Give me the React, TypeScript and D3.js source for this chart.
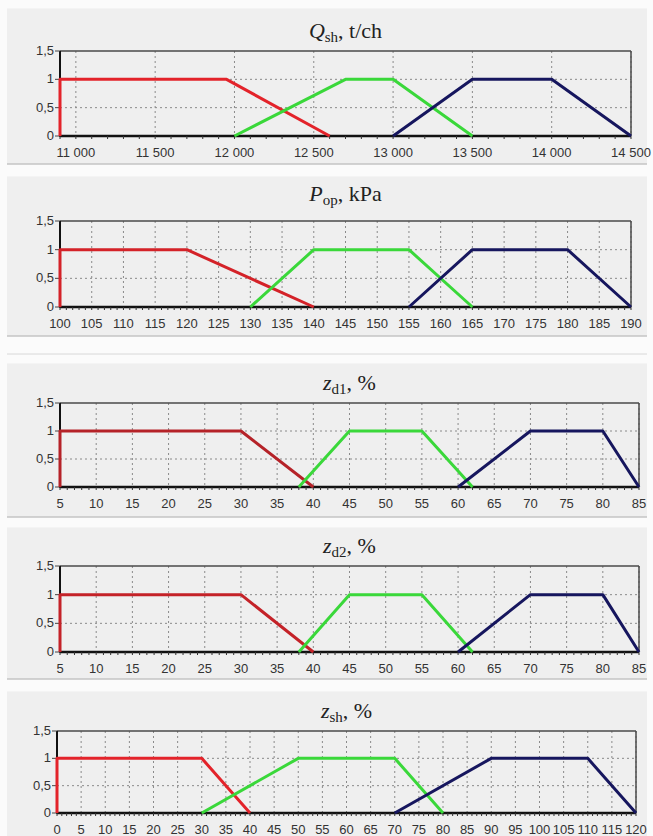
import * as d3 from "d3";
import React from "react";

// --- data: trapezoid membership functions ---
const qshTicks = [11000, 11500, 12000, 12500, 13000, 13500, 14000, 14500];
const qshLabels = ["11 000", "11 500", "12 000", "12 500", "13 000", "13 500", "14 000", "14 500"];
const qshRed: [number, number][] = [[10900, 0], [10900, 1], [11950, 1], [12600, 0]];
const qshGreen: [number, number][] = [[12000, 0], [12700, 1], [13000, 1], [13500, 0]];
const qshBlue: [number, number][] = [[13000, 0], [13500, 1], [14000, 1], [14500, 0]];

const popTicks = [100, 105, 110, 115, 120, 125, 130, 135, 140, 145, 150, 155, 160, 165, 170, 175, 180, 185, 190];
const popRed: [number, number][] = [[100, 0], [100, 1], [120, 1], [140, 0]];
const popGreen: [number, number][] = [[130, 0], [140, 1], [155, 1], [165, 0]];
const popBlue: [number, number][] = [[155, 0], [165, 1], [180, 1], [190, 0]];

const zdTicks = [5, 10, 15, 20, 25, 30, 35, 40, 45, 50, 55, 60, 65, 70, 75, 80, 85];
const zd1Red: [number, number][] = [[5, 0], [5, 1], [30, 1], [40, 0]];
const zd1Green: [number, number][] = [[38, 0], [45, 1], [55, 1], [62, 0]];
const zd1Blue: [number, number][] = [[60, 0], [70, 1], [80, 1], [85, 0]];
const zd2Red: [number, number][] = [[5, 0], [5, 1], [30, 1], [40, 0]];
const zd2Green: [number, number][] = [[38, 0], [45, 1], [55, 1], [62, 0]];
const zd2Blue: [number, number][] = [[60, 0], [70, 1], [80, 1], [85, 0]];

const zshTicks = [0, 5, 10, 15, 20, 25, 30, 35, 40, 45, 50, 55, 60, 65, 70, 75, 80, 85, 90, 95, 100, 105, 110, 115, 120];
const zshRed: [number, number][] = [[0, 0], [0, 1], [30, 1], [40, 0]];
const zshGreen: [number, number][] = [[30, 0], [50, 1], [70, 1], [80, 0]];
const zshBlue: [number, number][] = [[70, 0], [90, 1], [110, 1], [120, 0]];

const yTicks = [0, 0.5, 1, 1.5];
const yLabels = ["0", "0,5", "1", "1,5"];

const GREEN = "#3ad83a";
const BLUE = "#16165e";

type PanelProps = {
  bgTop: number;
  bgH: number;
  left: number;
  right: number;
  top: number;
  bottom: number;
  titleGap?: number;
  domain: [number, number];
  ticks: number[];
  labels?: string[];
  series: { pts: [number, number][]; color: string }[];
  sym: string;
  sub: string;
  unit: string;
};

const Panel = (p: PanelProps) => {
  const x = d3.scaleLinear().domain(p.domain).range([p.left, p.right]);
  const y = d3.scaleLinear().domain([0, 1.5]).range([p.bottom, p.top]);
  const line = d3
    .line<[number, number]>()
    .x((d) => x(d[0]))
    .y((d) => y(d[1]));

  // small minor ticks on the x axis, 5 per major step
  const step = p.ticks[1] - p.ticks[0];
  const minor: number[] = [];
  for (let v = p.domain[0]; v <= p.domain[1] + 1e-9; v += step / 5) minor.push(v);

  const cx = (p.left + p.right) / 2;
  return (
    <g>
      <rect x={7} y={p.bgTop} width={640} height={p.bgH} fill="#efefef" />
      <line x1={7} x2={647} y1={p.bgTop + p.bgH} y2={p.bgTop + p.bgH} stroke="#c4c4c4" strokeWidth={1.5} />
      <line x1={7} x2={647} y1={p.bgTop} y2={p.bgTop} stroke="#fafafa" strokeWidth={1} />

      <text x={cx} y={p.top - (p.titleGap ?? 13)} textAnchor="middle" fontFamily="'Liberation Serif', 'Times New Roman', serif" fontSize={22} fill="#222">
        <tspan fontStyle="italic">{p.sym}</tspan>
        <tspan fontSize={15} dy={4}>{p.sub}</tspan>
        <tspan dy={-4}>{", " + p.unit}</tspan>
      </text>

      {/* grid */}
      {p.ticks.map((t) => (
        <line key={"gx" + t} x1={x(t)} x2={x(t)} y1={p.top} y2={p.bottom} stroke="#8a8a8a" strokeWidth={1} strokeDasharray="2,3" />
      ))}
      {[0.5, 1].map((t) => (
        <line key={"gy" + t} x1={p.left} x2={p.right} y1={y(t)} y2={y(t)} stroke="#8a8a8a" strokeWidth={1} strokeDasharray="2,3" />
      ))}

      {/* frame */}
      <line x1={p.left} x2={p.right} y1={p.top} y2={p.top} stroke="#4a4a4a" strokeWidth={1.5} />
      <line x1={p.right} x2={p.right} y1={p.top} y2={p.bottom} stroke="#4a4a4a" strokeWidth={1.5} />
      <line x1={p.left} x2={p.left} y1={p.top} y2={p.bottom + 1} stroke="#111" strokeWidth={2} />
      <line x1={p.left} x2={p.right} y1={p.bottom} y2={p.bottom} stroke="#111" strokeWidth={2.5} />

      {minor.map((v, i) => (
        <line key={"mt" + i} x1={x(v)} x2={x(v)} y1={p.bottom} y2={p.bottom + 3} stroke="#333" strokeWidth={1} />
      ))}

      {/* y axis */}
      {yTicks.map((t, i) => (
        <g key={"yt" + t}>
          <line x1={p.left - 5} x2={p.left} y1={y(t)} y2={y(t)} stroke="#444" strokeWidth={1} />
          <text x={p.left - 6} y={y(t) + 4} textAnchor="end" fontFamily="'Liberation Sans', Arial, sans-serif" fontSize={13} fill="#333">
            {yLabels[i]}
          </text>
        </g>
      ))}

      {/* x axis labels */}
      {p.ticks.map((t, i) => (
        <text key={"xl" + t} x={x(t)} y={p.bottom + 21} textAnchor="middle" fontFamily="'Liberation Sans', Arial, sans-serif" fontSize={13} fill="#333">
          {p.labels ? p.labels[i] : String(t)}
        </text>
      ))}

      {p.series.map((s, i) => (
        <path key={"s" + i} d={line(s.pts) ?? ""} fill="none" stroke={s.color} strokeWidth={3} strokeLinejoin="round" />
      ))}
    </g>
  );
};

export default function App() {
  return (
    <svg width={653} height={836} style={{ position: "absolute", left: 0, top: 0, background: "#fbfbfb" }}>
      <Panel
        bgTop={8} bgH={156} left={60} right={631} top={51} bottom={136}
        domain={[10900, 14500]} ticks={qshTicks} labels={qshLabels}
        series={[{ pts: qshRed, color: "#e3232a" }, { pts: qshGreen, color: GREEN }, { pts: qshBlue, color: BLUE }]}
        sym="Q" sub="sh" unit="t/ch"
      />
      <Panel
        bgTop={176} bgH={160} left={60} right={631} top={221} bottom={307} titleGap={20}
        domain={[100, 190]} ticks={popTicks}
        series={[{ pts: popRed, color: "#d42228" }, { pts: popGreen, color: GREEN }, { pts: popBlue, color: BLUE }]}
        sym="P" sub="op" unit="kPa"
      />
      <line x1={7} x2={647} y1={354} y2={354} stroke="#d8d8d8" strokeWidth={1} />
      <Panel
        bgTop={363} bgH={154} left={60} right={639} top={403} bottom={487}
        domain={[5, 85]} ticks={zdTicks}
        series={[{ pts: zd1Red, color: "#b52228" }, { pts: zd1Green, color: GREEN }, { pts: zd1Blue, color: BLUE }]}
        sym="z" sub="d1" unit="%"
      />
      <Panel
        bgTop={527} bgH={152} left={60} right={639} top={566} bottom={652}
        domain={[5, 85]} ticks={zdTicks}
        series={[{ pts: zd2Red, color: "#c42228" }, { pts: zd2Green, color: GREEN }, { pts: zd2Blue, color: BLUE }]}
        sym="z" sub="d2" unit="%"
      />
      <Panel
        bgTop={691} bgH={150} left={57} right={636} top={731} bottom={813}
        domain={[0, 120]} ticks={zshTicks}
        series={[{ pts: zshRed, color: "#e3232a" }, { pts: zshGreen, color: GREEN }, { pts: zshBlue, color: BLUE }]}
        sym="z" sub="sh" unit="%"
      />
    </svg>
  );
}
